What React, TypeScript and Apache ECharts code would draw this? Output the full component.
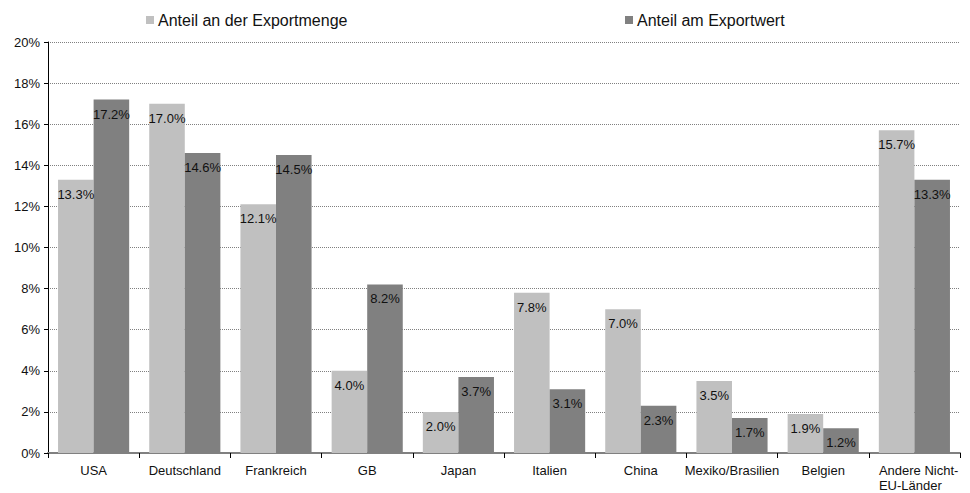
import React, { useEffect, useRef } from "react";
import * as echarts from "echarts";

const categories = ["USA", "Deutschland", "Frankreich", "GB", "Japan", "Italien", "China", "Mexiko/Brasilien", "Belgien", "Andere Nicht-\nEU-Länder"];
const mengeValues = [13.3, 17.0, 12.1, 4.0, 2.0, 7.8, 7.0, 3.5, 1.9, 15.7];
const wertValues = [17.2, 14.6, 14.5, 8.2, 3.7, 3.1, 2.3, 1.7, 1.2, 13.3];
const seriesNames = ["Anteil an der Exportmenge", "Anteil am Exportwert"];
const yTicks = [0, 2, 4, 6, 8, 10, 12, 14, 16, 18, 20];

const FONT = "'Liberation Sans', Arial, sans-serif";

export default function App() {
  const ref = useRef<HTMLDivElement>(null);
  useEffect(() => {
    document.body.style.margin = "0";
    const chart = echarts.init(ref.current!, null, { renderer: "svg" });
    const label = {
      show: true,
      position: "insideTop",
      distance: 8,
      color: "#111",
      fontSize: 13,
      fontFamily: FONT,
      formatter: (p: any) => p.value.toFixed(1) + "%",
    };
    const legendText = { fontSize: 16, color: "#111", fontFamily: FONT, padding: [0, 0, 0, -1] };
    chart.setOption({
      animation: false,
      textStyle: { fontFamily: FONT },
      legend: [
        {
          data: [seriesNames[0]],
          left: 146,
          top: 12,
          padding: 0,
          itemWidth: 8,
          itemHeight: 8,
          icon: "rect",
          textStyle: legendText,
        },
        {
          data: [seriesNames[1]],
          left: 625,
          top: 12,
          padding: 0,
          itemWidth: 8,
          itemHeight: 8,
          icon: "rect",
          textStyle: legendText,
        },
      ],
      grid: { left: 48, right: 10, top: 42, bottom: 40, containLabel: false },
      xAxis: {
        type: "category",
        data: categories,
        axisLine: { lineStyle: { color: "#808080", width: 2 } },
        axisTick: { show: true, length: 5, lineStyle: { color: "#000" } },
        axisLabel: {
          fontSize: 13,
          color: "#111",
          margin: 10,
          interval: 0,
          lineHeight: 15,
          fontFamily: FONT,
          formatter: (v: string) =>
            v.includes("\n")
              ? v.split("\n").map((s) => "{l|" + s + "}").join("\n")
              : v,
          rich: {
            l: { fontSize: 13, color: "#111", fontFamily: FONT, lineHeight: 15, width: 81, align: "left", padding: [0, 0, 0, 10] },
          },
        },
      },
      yAxis: {
        type: "value",
        min: 0,
        max: 20,
        interval: 2,
        axisLine: { show: true, lineStyle: { color: "#000" } },
        axisTick: { show: true, length: 4, lineStyle: { color: "#000" } },
        axisLabel: { fontSize: 13, color: "#111", margin: 8, formatter: (v: number) => (yTicks.includes(v) ? v + "%" : ""), fontFamily: FONT },
        splitLine: { show: true, lineStyle: { color: "#808080", type: [1, 1], width: 1 } },
      },
      series: [
        {
          name: seriesNames[0],
          type: "bar",
          data: mengeValues,
          itemStyle: { color: "#c0c0c0" },
          barGap: "0%",
          barCategoryGap: "22%",
          label,
        },
        {
          name: seriesNames[1],
          type: "bar",
          data: wertValues,
          itemStyle: { color: "#808080" },
          barGap: "0%",
          barCategoryGap: "22%",
          label,
        },
      ],
    });
    return () => chart.dispose();
  }, []);
  return <div ref={ref} style={{ width: 970, height: 493 }} />;
}
